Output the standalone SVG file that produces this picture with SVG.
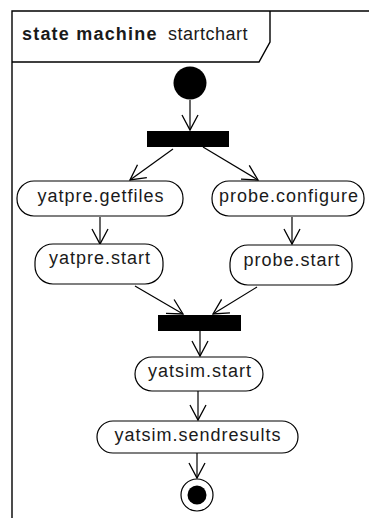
<svg xmlns="http://www.w3.org/2000/svg" width="369" height="518" viewBox="0 0 369 518">
<style>
.frame{fill:none;stroke:#000;stroke-width:1.4}
.node{fill:#fff;stroke:#000;stroke-width:1.2}
.bar{fill:#000}
.lbl{font-family:"Liberation Sans",Arial,sans-serif;font-size:18px;fill:#1a1a1a;text-anchor:middle;letter-spacing:1px}
.edge{fill:none;stroke:#000;stroke-width:1.2;marker-end:url(#arr)}
</style>
<defs>
<marker id="arr" viewBox="-17 -10 19 20" markerWidth="19" markerHeight="20" refX="0" refY="0" markerUnits="userSpaceOnUse" orient="auto">
<path d="M-15,-8 L0,0 L-15,8" fill="none" stroke="#000" stroke-width="1.3"/>
</marker>
</defs>
<rect x="0" y="0" width="369" height="518" fill="#fff"/>
<g id="frame">
<path class="frame" d="M12,530 L12,11 L380,11"/>
<path class="frame" d="M12,62 L259,62 L270,42 L270,11"/>
<text x="22" y="40" style="font-family:'Liberation Sans',Arial,sans-serif;font-size:18px;font-weight:bold;fill:#1a1a1a;letter-spacing:1.2px">state machine</text>
<text x="168" y="40" style="font-family:'Liberation Sans',Arial,sans-serif;font-size:18px;fill:#1a1a1a;letter-spacing:0.5px">startchart</text>
</g>
<g id="connectors">
<path class="edge" d="M190,100 L190,130"/>
<path class="edge" d="M173,149 L130,180"/>
<path class="edge" d="M203,147 L258,180"/>
<path class="edge" d="M100,217 L100,244"/>
<path class="edge" d="M292,217 L292,244"/>
<path class="edge" d="M135,286 L183,314"/>
<path class="edge" d="M257,287 L213,314"/>
<path class="edge" d="M200,331 L200,356"/>
<path class="edge" d="M198,391 L198,420"/>
<path class="edge" d="M197,453 L197,478"/>
</g>
<g id="initial"><circle cx="190" cy="83" r="16.5" fill="#000"/></g>
<g id="fork"><rect class="bar" x="147" y="131" width="82" height="16"/></g>
<g id="yatpre_getfiles"><rect class="node" x="17" y="181" width="166" height="35" rx="17" ry="17"/><text class="lbl" x="101" y="202">yatpre.getfiles</text></g>
<g id="probe_configure"><rect class="node" x="212" y="181" width="152" height="35" rx="17" ry="17"/><text class="lbl" x="289" y="202">probe.configure</text></g>
<g id="yatpre_start"><rect class="node" x="35" y="244" width="128" height="40" rx="18" ry="18"/><text class="lbl" x="100" y="264">yatpre.start</text></g>
<g id="probe_start"><rect class="node" x="230" y="245" width="122" height="40" rx="18" ry="18"/><text class="lbl" x="292" y="266">probe.start</text></g>
<g id="join"><rect class="bar" x="158" y="315" width="83" height="16"/></g>
<g id="yatsim_start"><rect class="node" x="135" y="357" width="128" height="34" rx="17" ry="17"/><text class="lbl" x="200" y="377">yatsim.start</text></g>
<g id="yatsim_sendresults"><rect class="node" x="97" y="421" width="201" height="32" rx="16" ry="16"/><text class="lbl" x="198" y="441">yatsim.sendresults</text></g>
<g id="final"><circle cx="197" cy="495" r="16" fill="#fff" stroke="#000" stroke-width="1.2"/><circle cx="197" cy="495" r="9.5" fill="#000"/></g>
</svg>
